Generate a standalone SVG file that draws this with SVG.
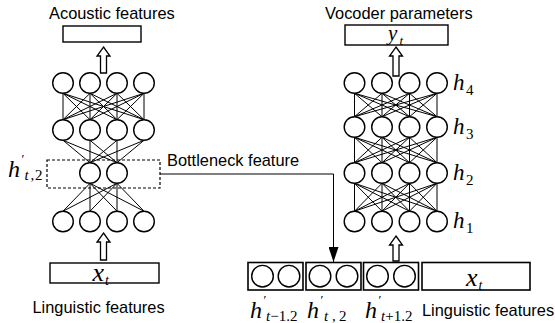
<svg xmlns="http://www.w3.org/2000/svg" width="555" height="323" viewBox="0 0 555 323">
<defs>
<style>
.n{fill:#fff;stroke:#000;stroke-width:1.4}
.e{stroke:#000;stroke-width:1;fill:none}
.box{fill:#fff;stroke:#000;stroke-width:1.4}
.bbox{fill:#fff;stroke:#000;stroke-width:1.6}
.ar{fill:#fff;stroke:#000;stroke-width:1.3}
.lbl{font-family:"Liberation Sans",Arial,sans-serif;font-size:16.4px;fill:#000}
.m{font-family:"Liberation Serif","Times New Roman",serif;font-style:italic;fill:#000}
.s{font-family:"Liberation Serif","Times New Roman",serif;font-size:15px;fill:#000}
.p{font-family:"Liberation Serif","Times New Roman",serif;font-size:13px;fill:#000}
</style>
<marker id="tri" markerWidth="15" markerHeight="10" refX="15" refY="5" orient="auto" markerUnits="userSpaceOnUse" viewBox="0 0 15 10">
<path d="M0,0 L15,5 L0,10 Z" fill="#000"/>
</marker>
</defs>
<rect width="555" height="323" fill="#fff"/>

<g id="connectors">
<g class="e">
<path d="M63,93.3L63,119.7M63,93.3L90,119.7M63,93.3L117,119.7M63,93.3L144,119.7
M90,93.3L63,119.7M90,93.3L90,119.7M90,93.3L117,119.7M90,93.3L144,119.7
M117,93.3L63,119.7M117,93.3L90,119.7M117,93.3L117,119.7M117,93.3L144,119.7
M144,93.3L63,119.7M144,93.3L90,119.7M144,93.3L117,119.7M144,93.3L144,119.7"/>
<path d="M63,140.3L90,162.7M63,140.3L117,162.7M90,140.3L90,162.7M90,140.3L117,162.7
M117,140.3L90,162.7M117,140.3L117,162.7M144,140.3L90,162.7M144,140.3L117,162.7"/>
<path d="M90,183.3L63,211.2M90,183.3L90,211.2M90,183.3L117,211.2M90,183.3L144,211.2
M117,183.3L63,211.2M117,183.3L90,211.2M117,183.3L117,211.2M117,183.3L144,211.2"/>
<path d="M354.5,93.3L354.5,116.7M354.5,93.3L382,116.7M354.5,93.3L409.5,116.7M354.5,93.3L437,116.7
M382,93.3L354.5,116.7M382,93.3L382,116.7M382,93.3L409.5,116.7M382,93.3L437,116.7
M409.5,93.3L354.5,116.7M409.5,93.3L382,116.7M409.5,93.3L409.5,116.7M409.5,93.3L437,116.7
M437,93.3L354.5,116.7M437,93.3L382,116.7M437,93.3L409.5,116.7M437,93.3L437,116.7"/>
<path d="M354.5,137.3L354.5,162.7M354.5,137.3L382,162.7M354.5,137.3L409.5,162.7M354.5,137.3L437,162.7
M382,137.3L354.5,162.7M382,137.3L382,162.7M382,137.3L409.5,162.7M382,137.3L437,162.7
M409.5,137.3L354.5,162.7M409.5,137.3L382,162.7M409.5,137.3L409.5,162.7M409.5,137.3L437,162.7
M437,137.3L354.5,162.7M437,137.3L382,162.7M437,137.3L409.5,162.7M437,137.3L437,162.7"/>
<path d="M354.5,183.3L354.5,211.2M354.5,183.3L382,211.2M354.5,183.3L409.5,211.2M354.5,183.3L437,211.2
M382,183.3L354.5,211.2M382,183.3L382,211.2M382,183.3L409.5,211.2M382,183.3L437,211.2
M409.5,183.3L354.5,211.2M409.5,183.3L382,211.2M409.5,183.3L409.5,211.2M409.5,183.3L437,211.2
M437,183.3L354.5,211.2M437,183.3L382,211.2M437,183.3L409.5,211.2M437,183.3L437,211.2"/>
</g>
<path class="e" d="M160,174H333.5V262" marker-end="url(#tri)"/>
<polygon class="ar" points="103.5,47 110,56 106.5,56 106.5,73 100.5,73 100.5,56 97,56"/>
<polygon class="ar" points="103.5,233 110,242 106.5,242 106.5,260 100.5,260 100.5,242 97,242"/>
<polygon class="ar" points="396,47 402.5,56 399,56 399,76 393,76 393,56 389.5,56"/>
<polygon class="ar" points="396,236 402.5,245 399,245 399,261 393,261 393,245 389.5,245"/>
</g>

<g id="acoustic">
<text class="lbl" x="49" y="18.5">Acoustic features</text>
<rect class="box" x="63" y="26" width="78" height="16"/>
</g>

<g id="left-l4">
<circle class="n" cx="63" cy="83" r="10.3"/><circle class="n" cx="90" cy="83" r="10.3"/>
<circle class="n" cx="117" cy="83" r="10.3"/><circle class="n" cx="144" cy="83" r="10.3"/>
</g>
<g id="left-l3">
<circle class="n" cx="63" cy="130" r="10.3"/><circle class="n" cx="90" cy="130" r="10.3"/>
<circle class="n" cx="117" cy="130" r="10.3"/><circle class="n" cx="144" cy="130" r="10.3"/>
</g>
<g id="left-bottleneck">
<rect x="47" y="160" width="113" height="28" fill="none" stroke="#000" stroke-width="1.2" stroke-dasharray="3,2"/>
<circle class="n" cx="90" cy="173" r="10.3"/><circle class="n" cx="117" cy="173" r="10.3"/>
<text class="m" x="8" y="177" font-size="24">h</text>
<text class="p" x="21.5" y="163">′</text>
<text class="s" y="179.5"><tspan class="m" x="24.5">t</tspan><tspan x="30.5">,</tspan><tspan x="35">2</tspan></text>
<text class="lbl" x="167" y="166">Bottleneck feature</text>
</g>
<g id="left-l1">
<circle class="n" cx="63" cy="221.5" r="10.3"/><circle class="n" cx="90" cy="221.5" r="10.3"/>
<circle class="n" cx="117" cy="221.5" r="10.3"/><circle class="n" cx="144" cy="221.5" r="10.3"/>
</g>
<g id="left-input">
<rect class="box" x="50" y="263" width="109" height="20"/>
<text class="m" x="92.5" y="280.5" font-size="26">x</text>
<text class="m" x="105" y="285" font-size="14">t</text>
<text class="lbl" x="32.5" y="313">Linguistic features</text>
</g>

<g id="vocoder">
<text class="lbl" x="325" y="18.5">Vocoder parameters</text>
<rect class="box" x="345" y="25" width="103" height="20"/>
<text class="m" x="388" y="40" font-size="21">y</text>
<text class="m" x="399.5" y="44.5" font-size="13">t</text>
</g>
<g id="right-h4">
<circle class="n" cx="354.5" cy="83" r="10.3"/><circle class="n" cx="382" cy="83" r="10.3"/>
<circle class="n" cx="409.5" cy="83" r="10.3"/><circle class="n" cx="437" cy="83" r="10.3"/>
<text class="m" x="453" y="90" font-size="23">h</text><text class="s" x="466" y="95">4</text>
</g>
<g id="right-h3">
<circle class="n" cx="354.5" cy="127" r="10.3"/><circle class="n" cx="382" cy="127" r="10.3"/>
<circle class="n" cx="409.5" cy="127" r="10.3"/><circle class="n" cx="437" cy="127" r="10.3"/>
<text class="m" x="453" y="134" font-size="23">h</text><text class="s" x="466" y="139">3</text>
</g>
<g id="right-h2">
<circle class="n" cx="354.5" cy="173" r="10.3"/><circle class="n" cx="382" cy="173" r="10.3"/>
<circle class="n" cx="409.5" cy="173" r="10.3"/><circle class="n" cx="437" cy="173" r="10.3"/>
<text class="m" x="453" y="180" font-size="23">h</text><text class="s" x="466" y="185">2</text>
</g>
<g id="right-h1">
<circle class="n" cx="354.5" cy="221.5" r="10.3"/><circle class="n" cx="382" cy="221.5" r="10.3"/>
<circle class="n" cx="409.5" cy="221.5" r="10.3"/><circle class="n" cx="437" cy="221.5" r="10.3"/>
<text class="m" x="453" y="228" font-size="23">h</text><text class="s" x="466" y="233">1</text>
</g>

<g id="input-prev">
<rect class="bbox" x="248" y="262.5" width="55" height="27.5"/>
<circle class="n" cx="262.5" cy="276.2" r="10.8"/><circle class="n" cx="289" cy="276.2" r="10.8"/>
<text class="m" x="250" y="318" font-size="24">h</text>
<text class="p" x="263.5" y="304">′</text>
<text class="s" x="266" y="321"><tspan class="m">t</tspan>−1.2</text>
</g>
<g id="input-cur">
<rect class="bbox" x="306" y="262.5" width="55" height="27.5"/>
<circle class="n" cx="320" cy="276.2" r="10.8"/><circle class="n" cx="347" cy="276.2" r="10.8"/>
<text class="m" x="307" y="318" font-size="24">h</text>
<text class="p" x="320.5" y="304">′</text>
<text class="s" y="321"><tspan class="m" x="324">t</tspan><tspan x="332">,</tspan><tspan x="339">2</tspan></text>
</g>
<g id="input-next">
<rect class="bbox" x="363.5" y="262.5" width="55" height="27.5"/>
<circle class="n" cx="377.5" cy="276.2" r="10.8"/><circle class="n" cx="404.5" cy="276.2" r="10.8"/>
<text class="m" x="365" y="318" font-size="24">h</text>
<text class="p" x="378.5" y="304">′</text>
<text class="s" x="381" y="321"><tspan class="m">t</tspan>+1.2</text>
</g>
<g id="input-ling">
<rect class="bbox" x="422" y="262.5" width="108" height="27.5"/>
<text class="m" x="466" y="286" font-size="26">x</text>
<text class="m" x="478.5" y="290" font-size="14">t</text>
<text class="lbl" x="422" y="316">Linguistic features</text>
</g>
</svg>
